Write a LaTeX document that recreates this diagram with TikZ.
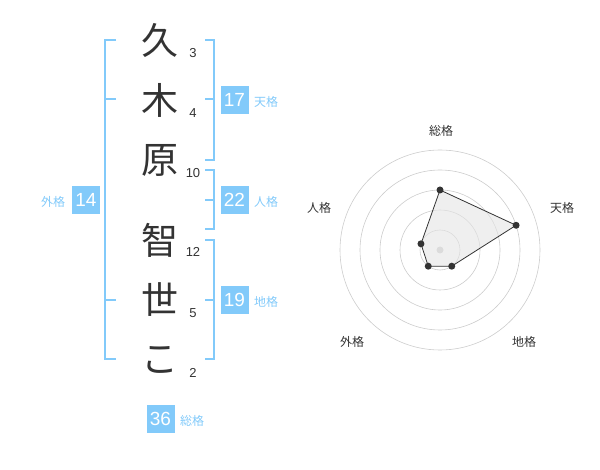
\documentclass[tikz,border=0pt]{standalone}
\usepackage{fontspec}
\setmainfont{Liberation Sans}
\newfontfamily\jpfont{Noto Sans CJK JP}
\usetikzlibrary{calc}
\definecolor{kakublue}{RGB}{130,202,250}
\definecolor{kakuink}{RGB}{51,51,51}
\definecolor{ringgray}{RGB}{204,204,204}
\tikzset{
	kanji/.style={inner sep=0pt, text=kakuink, font=\jpfont\fontsize{37}{37}\selectfont},
	strokes/.style={inner sep=0pt, text=kakuink, font=\fontsize{13}{13}\selectfont},
	kakubox/.style={fill=kakublue, text=white, minimum size=28pt, inner sep=0pt, font=\fontsize{19}{19}\selectfont},
	kakuname/.style={inner sep=0pt, text=kakublue, font=\jpfont\fontsize{12}{12}\selectfont},
	bracket/.style={draw=kakublue, line width=2pt},
	ring/.style={draw=ringgray, line width=0.6pt},
	axisname/.style={inner sep=0pt, text=kakuink, font=\jpfont\fontsize{12}{12}\selectfont},
}

\begin{document}
\begin{tikzpicture}[x=1pt, y=-1pt]
			%%%%% START %%%%%
			\useasboundingbox (0,0) rectangle (600,470);
			
			\node[kanji] (c1) at (160, 40) {久};
			\node[kanji] (c2) at (160, 100) {木};
			\node[kanji] (c3) at (160, 160) {原};
			\node[kanji] (c4) at (160, 240) {智};
			\node[kanji] (c5) at (160, 300) {世};
			\node[kanji] (c6) at (160, 360) {こ};
			
			\node[strokes] (n1) at (193, 53) {3};
			\node[strokes] (n2) at (193, 113) {4};
			\node[strokes] (n3) at (193, 173) {10};
			\node[strokes] (n4) at (193, 252) {12};
			\node[strokes] (n5) at (193, 313) {5};
			\node[strokes] (n6) at (193, 373) {2};
			
			\draw[bracket] (116, 40) -- (105, 40) -- (105, 359) -- (116, 359);
			\draw[bracket] (105, 99) -- (116, 99);
			\draw[bracket] (105, 300) -- (116, 300);
			
			\draw[bracket] (205, 40) -- (214, 40) -- (214, 160) -- (205, 160);
			\draw[bracket] (214, 99) -- (205, 99);
			\draw[bracket] (205, 170) -- (214, 170) -- (214, 229) -- (205, 229);
			\draw[bracket] (214, 200) -- (205, 200);
			\draw[bracket] (205, 240) -- (214, 240) -- (214, 359) -- (205, 359);
			\draw[bracket] (214, 300) -- (205, 300);
			
			\node[kakubox] (gai) at (86, 200) {14};
			\node[kakuname] (gainame) at (53, 202) {外格};
			\node[kakubox] (ten) at (234.5, 100) {17};
			\node[kakuname] (tenname) at (266, 102) {天格};
			\node[kakubox] (jin) at (234.5, 200) {22};
			\node[kakuname] (jinname) at (266, 202) {人格};
			\node[kakubox] (chi) at (234.5, 300) {19};
			\node[kakuname] (chiname) at (266, 302) {地格};
			\node[kakubox] (sou) at (160.5, 419) {36};
			\node[kakuname] (souname) at (192, 421) {総格};
			
			% radar
			\coordinate (rc) at (440, 250);
			\foreach \r in {20,40,...,100}
				\draw[ring] (rc) circle[radius=\r pt];
			\fill[ringgray] (rc) circle[radius=3.5pt];
			
			\coordinate (p1) at ($(rc)+(-90:60)$);
			\coordinate (p2) at ($(rc)+(-18:80)$);
			\coordinate (p3) at ($(rc)+(54:20)$);
			\coordinate (p4) at ($(rc)+(126:20)$);
			\coordinate (p5) at ($(rc)+(198:20)$);
			\draw[kakuink, line width=0.8pt, fill=black!10, fill opacity=0.6] (p1) -- (p2) -- (p3) -- (p4) -- (p5) -- cycle;
			\foreach \i in {1,...,5}
				\fill[kakuink] (p\i) circle[radius=3.5pt];
			
			\node[axisname] (a1) at (441, 131) {総格};
			\node[axisname] (a2) at (562, 208) {天格};
			\node[axisname] (a3) at (524, 342) {地格};
			\node[axisname] (a4) at (352, 342) {外格};
			\node[axisname] (a5) at (319, 208) {人格};
			
			%%%%% END %%%%%
		\end{tikzpicture}
\end{document}
